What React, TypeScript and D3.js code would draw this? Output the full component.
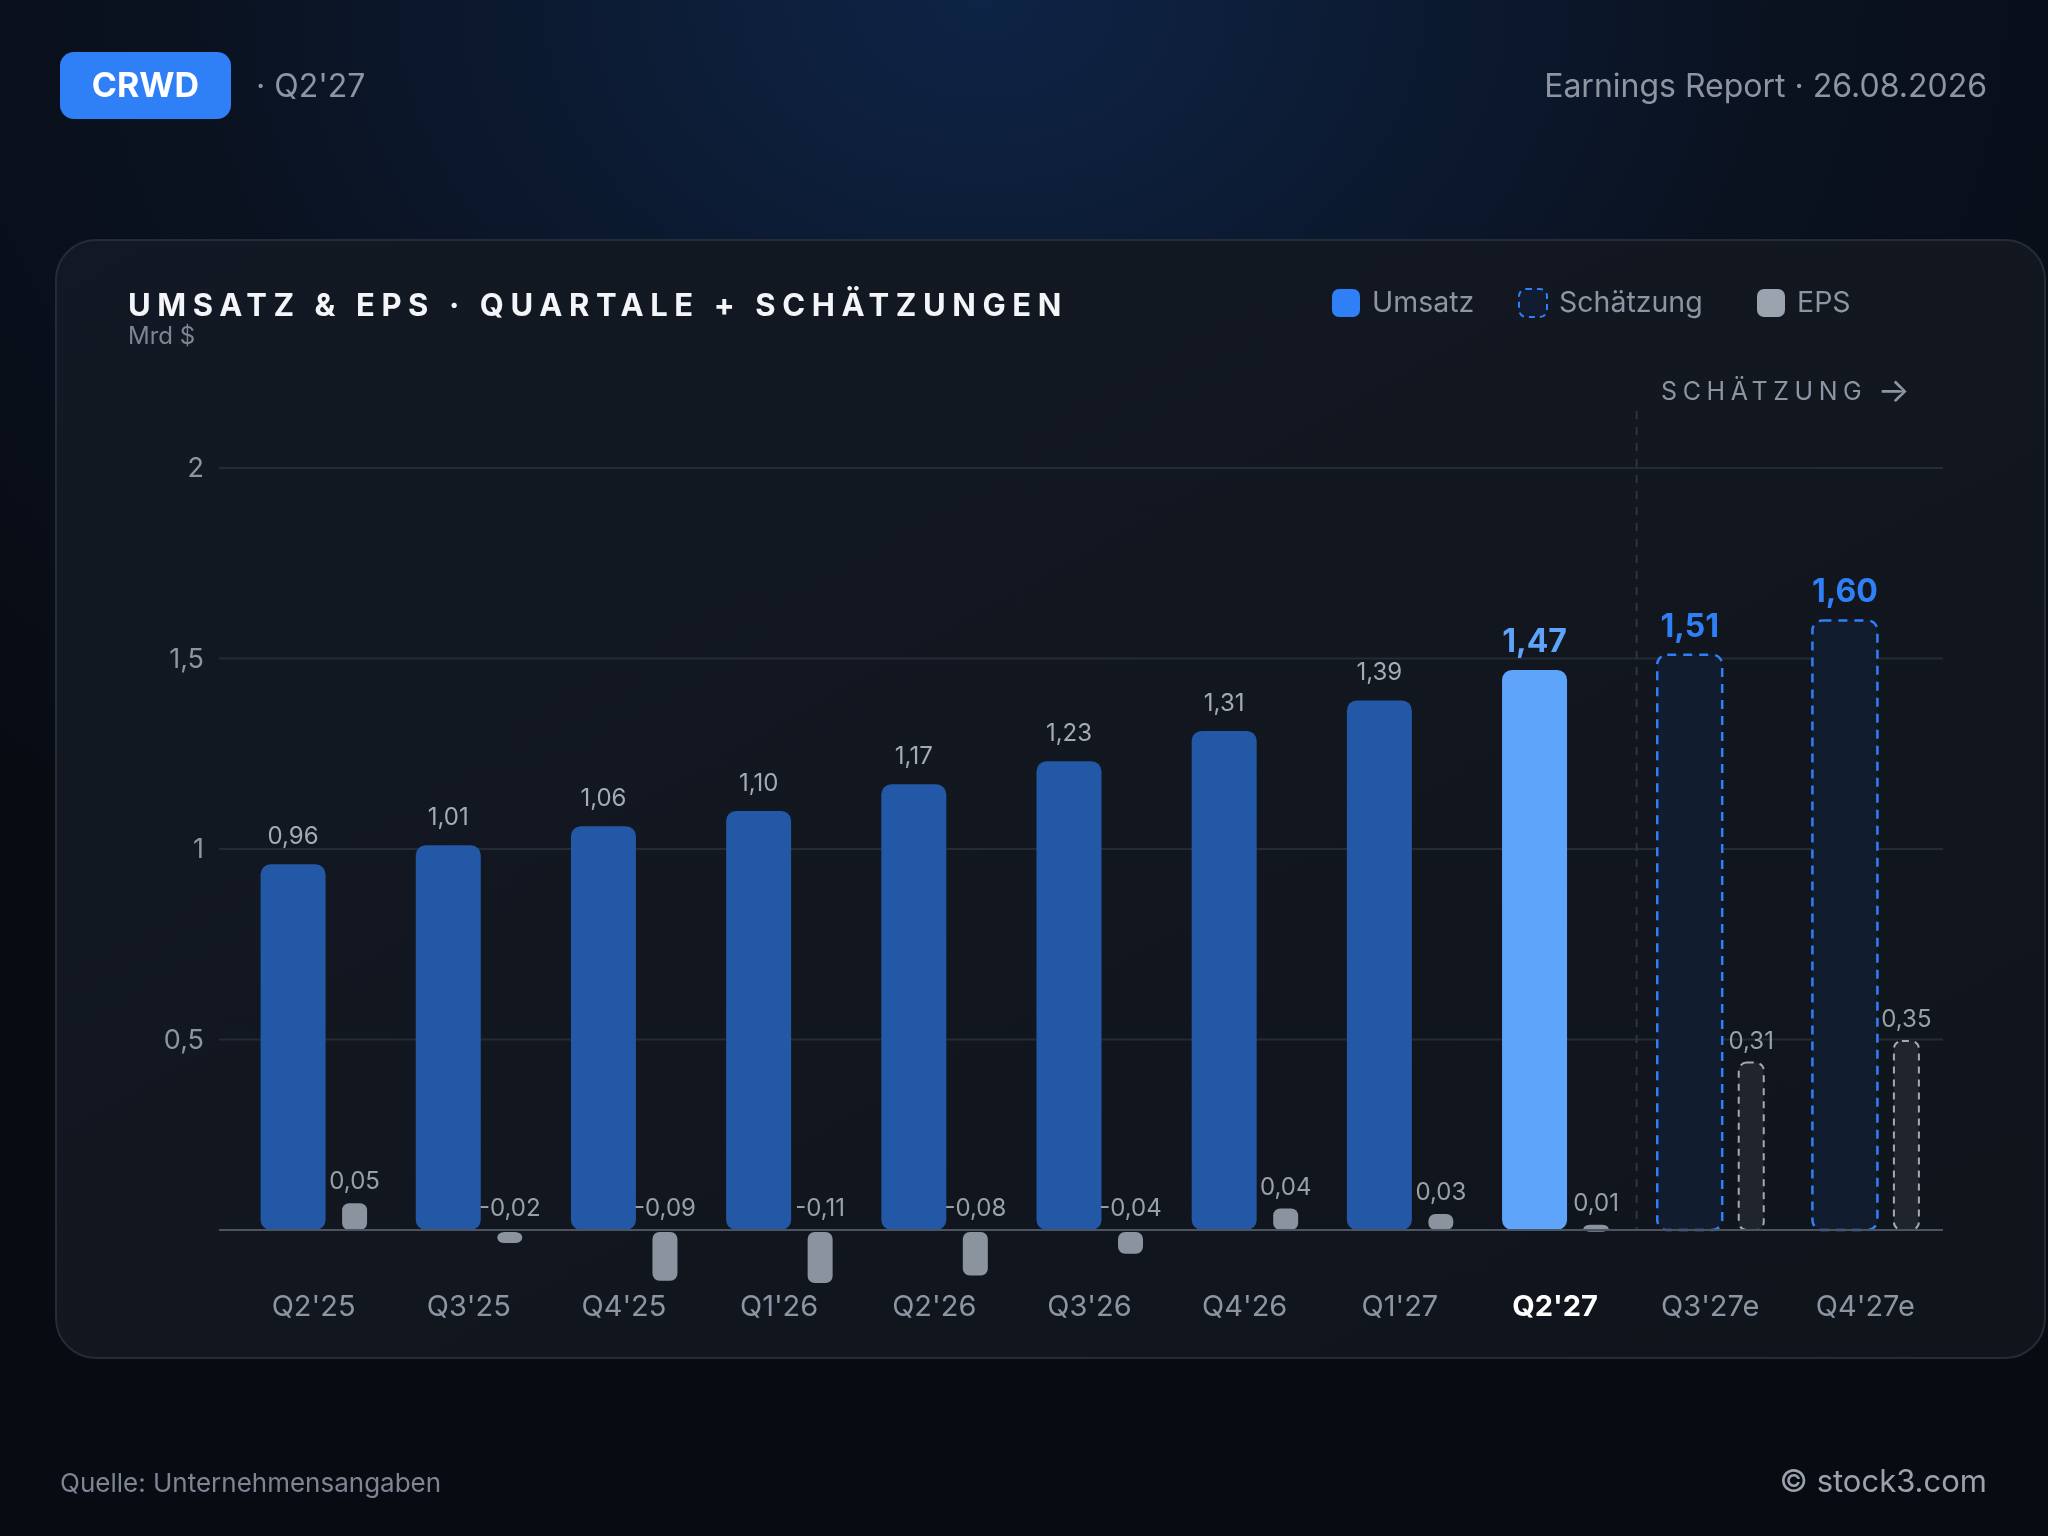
import React, { useEffect, useRef } from 'react';
import * as d3 from 'd3';

const quarters = ["Q2'25", "Q3'25", "Q4'25", "Q1'26", "Q2'26", "Q3'26", "Q4'26", "Q1'27", "Q2'27", "Q3'27e", "Q4'27e"];
const revenue = [0.96, 1.01, 1.06, 1.1, 1.17, 1.23, 1.31, 1.39, 1.47, 1.51, 1.6];
const eps = [0.05, -0.02, -0.09, -0.11, -0.08, -0.04, 0.04, 0.03, 0.01, 0.31, 0.35];
const isEstimate = [false, false, false, false, false, false, false, false, false, true, true];
const currentQuarter = "Q2'27";
const yTicks = [0.5, 1, 1.5, 2];

const W = 2048;
const H = 1536;
const FONT = 'Inter, "Noto Sans", sans-serif';

const de = d3.formatLocale({ decimal: ',', thousands: '.', grouping: [3], currency: ['', ' €'], minus: '-' });
const fmt2 = de.format('.2f');
const fmtTick = de.format('.2~f');

const App: React.FC = () => {
  const ref = useRef<SVGSVGElement | null>(null);

  useEffect(() => {
    if (!ref.current) return;
    const svg = d3.select(ref.current);
    svg.selectAll('*').remove();

    const defs = svg.append('defs');
    const glow = defs.append('radialGradient').attr('id', 'glow')
      .attr('cx', 0.48).attr('cy', 0).attr('r', 0.7);
    glow.append('stop').attr('offset', '0%').attr('stop-color', '#0e2446');
    glow.append('stop').attr('offset', '55%').attr('stop-color', '#0a1220');
    glow.append('stop').attr('offset', '100%').attr('stop-color', '#080b12');
    const cardGrad = defs.append('linearGradient').attr('id', 'card')
      .attr('x1', 0).attr('y1', 0).attr('x2', 1).attr('y2', 1);
    cardGrad.append('stop').attr('offset', '0%').attr('stop-color', '#131924');
    cardGrad.append('stop').attr('offset', '100%').attr('stop-color', '#10141b');

    svg.append('rect').attr('width', W).attr('height', H).attr('fill', 'url(#glow)');

    // header
    svg.append('rect').attr('x', 60).attr('y', 52).attr('width', 171).attr('height', 67)
      .attr('rx', 14).attr('fill', '#2f80f6');
    svg.append('text').attr('x', 145.5).attr('y', 97).attr('text-anchor', 'middle')
      .attr('font-family', FONT).attr('font-weight', 700).attr('font-size', 34)
      .attr('fill', '#ffffff').text('CRWD');
    svg.append('text').attr('x', 256).attr('y', 97)
      .attr('font-family', FONT).attr('font-size', 32).attr('fill', '#8d95a3').text("· Q2'27");
    svg.append('text').attr('x', 1987).attr('y', 97).attr('text-anchor', 'end')
      .attr('font-family', FONT).attr('font-size', 32).attr('fill', '#8d95a3')
      .text('Earnings Report · 26.08.2026');

    // card
    svg.append('rect').attr('x', 56).attr('y', 240).attr('width', 1989).attr('height', 1118)
      .attr('rx', 40).attr('fill', 'url(#card)').attr('stroke', '#262c37').attr('stroke-width', 2);

    svg.append('text').attr('x', 128).attr('y', 316)
      .attr('font-family', FONT).attr('font-weight', 700).attr('font-size', 31)
      .attr('letter-spacing', 6.6).attr('fill', '#f3f5f8')
      .text('UMSATZ & EPS · QUARTALE + SCHÄTZUNGEN');
    svg.append('text').attr('x', 128).attr('y', 344)
      .attr('font-family', FONT).attr('font-size', 24).attr('fill', '#7d8593').text('Mrd $');

    // legend
    const legend = [
      { label: 'Umsatz', x: 1332, fill: '#2f80f6', stroke: 'none', dash: null as string | null },
      { label: 'Schätzung', x: 1519, fill: '#111c30', stroke: '#2f80f6', dash: '6,5' },
      { label: 'EPS', x: 1757, fill: '#9ba3ae', stroke: 'none', dash: null },
    ];
    legend.forEach((l) => {
      svg.append('rect').attr('x', l.x).attr('y', 289).attr('width', 28).attr('height', 28)
        .attr('rx', 7).attr('fill', l.fill).attr('stroke', l.stroke).attr('stroke-width', 2)
        .attr('stroke-dasharray', l.dash);
      svg.append('text').attr('x', l.x + 40).attr('y', 312)
        .attr('font-family', FONT).attr('font-size', 28.5).attr('fill', '#8d95a3').text(l.label);
    });

    // scales
    const zeroY = 1230;
    const x = d3.scaleBand<string>().domain(quarters).range([236, 1943]);
    const y = d3.scaleLinear().domain([0, 2.2]).range([zeroY, zeroY - 2.2 * 381]);
    const yEps = d3.scaleLinear().domain([-0.094, 0.35]).range([zeroY + 51, zeroY - 189]).clamp(true);
    const gridL = 219;
    const gridR = 1943;

    const grid = svg.append('g');
    yTicks.forEach((t) => {
      grid.append('line').attr('x1', gridL).attr('x2', gridR).attr('y1', y(t)).attr('y2', y(t))
        .attr('stroke', '#252b35').attr('stroke-width', 2);
      grid.append('text').attr('x', 204).attr('y', y(t) + 9).attr('text-anchor', 'end')
        .attr('font-family', FONT).attr('font-size', 27).attr('fill', '#8d95a3').text(fmtTick(t));
    });

    // estimate separator
    const sepX = x(quarters[9])! + 4;
    svg.append('line').attr('x1', sepX).attr('x2', sepX).attr('y1', 411).attr('y2', zeroY)
      .attr('stroke', '#2f3540').attr('stroke-width', 2).attr('stroke-dasharray', '8,8');
    svg.append('text').attr('x', 1661).attr('y', 400)
      .attr('font-family', FONT).attr('font-size', 25).attr('letter-spacing', 5.6)
      .attr('fill', '#8d95a3').text('SCHÄTZUNG');
    svg.append('text').attr('x', 1910).attr('y', 402).attr('text-anchor', 'end')
      .attr('font-family', FONT).attr('font-size', 34)
      .attr('fill', '#8d95a3').text('→');

    const bars = svg.append('g');
    quarters.forEach((q, i) => {
      const c = x(q)! + x.bandwidth() / 2;
      const rx0 = c - 53;
      const rw = 65;
      const ex0 = c + 28.5;
      const ew = 25;
      const top = y(revenue[i]);
      const current = q === currentQuarter;

      if (isEstimate[i]) {
        bars.append('rect').attr('x', rx0).attr('y', top).attr('width', rw).attr('height', zeroY - top)
          .attr('rx', 10).attr('fill', '#111c2f').attr('stroke', '#2f80f6')
          .attr('stroke-width', 2.5).attr('stroke-dasharray', '9,7');
      } else {
        bars.append('rect').attr('x', rx0).attr('y', top).attr('width', rw).attr('height', zeroY - top)
          .attr('rx', 10).attr('fill', current ? '#5ea4fb' : '#2358a6');
      }
      bars.append('text').attr('x', rx0 + rw / 2).attr('y', top - (isEstimate[i] || current ? 18 : 20))
        .attr('text-anchor', 'middle').attr('font-family', FONT)
        .attr('font-size', isEstimate[i] || current ? 32 : 24)
        .attr('font-weight', isEstimate[i] || current ? 700 : 400)
        .attr('fill', current ? '#5ea4fb' : isEstimate[i] ? '#2f80f6' : '#a4abb6')
        .text(fmt2(revenue[i]));

      const ey = yEps(eps[i]);
      const eTop = Math.min(ey, zeroY);
      const eH = Math.max(Math.abs(ey - zeroY), 7);
      if (isEstimate[i]) {
        bars.append('rect').attr('x', ex0).attr('y', eTop).attr('width', ew).attr('height', eH)
          .attr('rx', 8).attr('fill', '#20242c').attr('stroke', '#a3aab4')
          .attr('stroke-width', 2).attr('stroke-dasharray', '7,6');
      } else {
        bars.append('rect').attr('x', ex0).attr('y', eps[i] < 0 ? zeroY + 2 : eTop)
          .attr('width', ew).attr('height', eH).attr('rx', 7).attr('fill', '#8a939e');
      }
      bars.append('text').attr('x', ex0 + ew / 2).attr('y', eps[i] < 0 ? zeroY - 14 : eTop - 14)
        .attr('text-anchor', 'middle').attr('font-family', FONT).attr('font-size', 24)
        .attr('fill', '#99a0aa').text(fmt2(eps[i]));

      svg.append('text').attr('x', c).attr('y', 1316).attr('text-anchor', 'middle')
        .attr('font-family', FONT).attr('font-size', 29)
        .attr('font-weight', current ? 700 : 400)
        .attr('fill', current ? '#ffffff' : '#8d95a3').text(q);
    });

    svg.append('line').attr('x1', gridL).attr('x2', gridR).attr('y1', zeroY).attr('y2', zeroY)
      .attr('stroke', '#4d5461').attr('stroke-width', 2);

    // footer
    svg.append('text').attr('x', 60).attr('y', 1492)
      .attr('font-family', FONT).attr('font-size', 26).attr('fill', '#7d8593').text('Quelle: Unternehmensangaben');
    svg.append('text').attr('x', 1987).attr('y', 1492).attr('text-anchor', 'end')
      .attr('font-family', FONT).attr('font-size', 31).attr('fill', '#9aa2ae').text('© stock3.com');
  }, []);

  return (
    <svg
      ref={ref}
      width={W}
      height={H}
      style={{ position: 'fixed', top: 0, left: 0, display: 'block' }}
    ></svg>
  );
};

export default App;
